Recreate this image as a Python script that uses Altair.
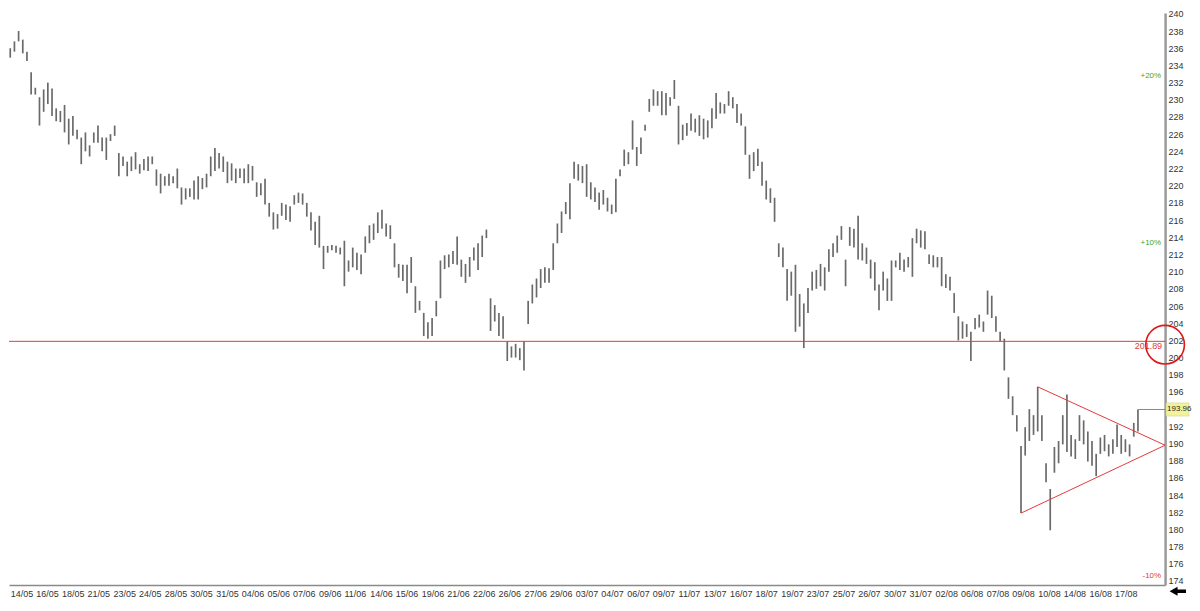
import altair as alt
import pandas as pd

# ---- bar data (high / low per bar) ----
highs = [236.0, 236.8, 238.0, 237.0, 235.6, 233.2, 231.4, 230.3, 231.2, 232.0,
         231.3, 229.0, 228.7, 229.4, 227.8, 228.1, 226.5, 225.6, 226.2, 224.7,
         226.2, 227.0, 225.6, 225.6, 226.0, 227.0, 223.8, 223.4, 222.8, 223.4,
         223.9, 222.5, 223.1, 223.4, 223.4, 221.9, 221.4, 221.1, 221.4, 221.1,
         222.0, 219.8, 219.7, 219.7, 220.6, 221.1, 220.9, 221.4, 223.4, 224.4,
         223.8, 223.4, 222.8, 222.6, 222.0, 222.0, 222.0, 222.5, 222.3, 220.4,
         220.3, 220.8, 218.0, 216.9, 216.7, 218.0, 217.8, 217.6, 218.9, 219.2,
         219.1, 218.0, 216.9, 215.8, 216.5, 213.0, 213.0, 213.1, 213.0, 212.8,
         213.6, 211.3, 212.8, 212.2, 212.0, 214.1, 215.4, 215.6, 216.9, 217.2,
         215.6, 215.4, 213.3, 210.9, 210.8, 210.8, 211.7, 208.3, 206.6, 205.2,
         204.1, 204.6, 206.6, 211.3, 211.9, 212.0, 212.4, 214.1, 211.4, 210.9,
         211.7, 212.8, 213.3, 214.2, 214.9, 206.9, 206.1, 205.2, 204.8, 201.9,
         201.3, 201.6, 201.1, 201.9, 206.6, 208.5, 209.2, 210.3, 210.5, 210.4,
         213.3, 215.6, 217.0, 218.1, 220.3, 222.8, 222.5, 222.3, 222.5, 220.4,
         219.8, 219.2, 219.5, 218.6, 217.8, 220.8, 221.9, 224.2, 223.9, 227.6,
         224.5, 225.6, 227.1, 230.1, 231.2, 231.0, 231.0, 230.8, 230.3, 232.3,
         229.3, 227.1, 227.3, 228.4, 227.8, 228.2, 227.8, 227.6, 229.0, 230.8,
         229.7, 229.5, 231.0, 230.3, 229.5, 228.4, 226.9, 223.6, 223.9, 224.3,
         222.8, 220.6, 219.7, 218.6, 213.3, 212.8, 210.3, 210.0, 210.8, 207.4,
         206.3, 208.1, 210.0, 210.2, 210.9, 210.5, 212.6, 213.3, 214.2, 215.3,
         211.4, 215.2, 215.0, 216.5, 213.3, 212.8, 211.4, 211.1, 208.5, 210.0,
         209.2, 211.3, 211.3, 212.2, 211.4, 211.7, 213.9, 215.0, 214.8, 214.7,
         212.0, 211.9, 211.7, 211.7, 209.7, 209.4, 207.5, 204.8, 204.2, 203.9,
         203.0, 204.6, 205.0, 204.2, 207.8, 207.2, 204.8, 203.0, 202.2, 197.7,
         195.5, 193.3, 189.7, 191.9, 194.0, 193.3, 196.6, 193.3, 187.7, 184.7,
         189.6, 190.3, 193.3, 195.7, 191.0, 190.5, 193.3, 192.7, 191.4, 190.3,
         188.8, 190.7, 191.0, 189.9, 190.5, 192.2, 191.0, 190.5, 189.9, 192.4,
         193.96]

lows = [234.9, 235.6, 236.8, 235.4, 234.5, 230.6, 230.6, 227.0, 228.6, 229.5,
        228.1, 227.5, 227.4, 226.2, 224.8, 225.8, 225.4, 222.5, 224.0, 223.4,
        225.0, 225.0, 224.0, 223.0, 225.2, 225.8, 221.1, 222.3, 221.1, 221.7,
        221.9, 221.4, 221.8, 221.7, 222.5, 220.0, 219.1, 220.0, 220.0, 220.3,
        219.7, 217.8, 218.4, 218.7, 218.4, 218.4, 219.6, 219.8, 221.1, 221.7,
        222.0, 221.6, 220.3, 220.6, 220.3, 220.9, 220.3, 220.3, 220.6, 218.7,
        218.9, 217.8, 216.4, 214.9, 215.0, 216.5, 216.0, 215.8, 217.8, 218.0,
        217.8, 216.4, 214.8, 213.1, 212.8, 210.3, 212.2, 212.5, 212.2, 212.0,
        208.3, 210.0, 210.5, 210.2, 209.7, 212.2, 213.3, 213.7, 214.5, 215.0,
        214.1, 213.8, 210.5, 209.3, 208.9, 207.5, 208.7, 205.2, 205.5, 202.5,
        202.2, 202.5, 204.8, 206.9, 210.3, 210.5, 210.9, 210.8, 209.4, 208.7,
        209.4, 211.3, 210.2, 211.7, 213.9, 203.1, 204.2, 202.5, 202.2, 199.6,
        200.0, 200.0, 199.7, 198.5, 203.9, 206.3, 207.0, 208.1, 208.7, 208.7,
        210.2, 213.3, 214.5, 216.7, 216.1, 220.8, 220.6, 220.3, 218.7, 218.4,
        218.1, 217.2, 217.8, 217.0, 216.7, 216.9, 221.1, 222.3, 222.5, 224.2,
        222.3, 223.7, 226.4, 228.6, 229.3, 229.3, 228.2, 228.2, 229.3, 230.1,
        224.8, 225.3, 225.8, 226.4, 226.2, 225.8, 225.4, 225.6, 226.7, 227.8,
        228.4, 228.4, 229.3, 229.0, 227.3, 227.0, 223.6, 220.8, 221.7, 222.3,
        220.0, 218.4, 218.0, 215.8, 211.7, 210.5, 206.6, 207.2, 203.0, 203.6,
        201.1, 205.2, 207.8, 208.0, 208.3, 207.8, 210.0, 211.7, 212.2, 213.7,
        208.3, 213.0, 212.8, 211.4, 211.3, 210.9, 209.2, 207.8, 205.5, 207.8,
        206.6, 206.6, 210.5, 210.2, 210.0, 210.5, 209.4, 213.3, 212.8, 212.6,
        210.9, 210.5, 210.5, 208.3, 208.1, 207.8, 205.2, 202.0, 202.2, 202.4,
        199.6, 203.3, 203.5, 203.0, 205.0, 204.6, 203.0, 201.9, 198.5, 195.2,
        193.3, 191.4, 181.9, 188.6, 190.3, 191.0, 191.4, 190.3, 185.5, 179.9,
        186.6, 187.7, 189.9, 189.0, 188.5, 188.2, 190.3, 189.9, 187.9, 187.4,
        186.2, 188.8, 189.1, 188.5, 188.8, 189.6, 188.8, 189.0, 188.5, 190.8,
        191.4]

date_labels = ["14/05", "16/05", "18/05", "21/05", "23/05", "24/05", "28/05", "30/05",
               "31/05", "04/06", "05/06", "07/06", "09/06", "11/06", "14/06", "15/06",
               "19/06", "21/06", "22/06", "26/06", "27/06", "29/06", "03/07", "04/07",
               "06/07", "09/07", "11/07", "13/07", "16/07", "18/07", "19/07", "23/07",
               "25/07", "26/07", "30/07", "31/07", "02/08", "06/08", "07/08", "09/08",
               "10/08", "14/08", "16/08", "17/08"]
# bar position of each date label (evenly spaced in the reference)
label_bars = [0.0, 6.1, 12.3, 18.4, 24.6, 30.7, 36.9, 43.0, 49.2, 55.3, 61.5, 67.6,
              73.8, 79.9, 86.1, 92.2, 98.4, 104.5, 110.7, 116.8, 123.0, 129.1, 135.3,
              141.4, 147.6, 153.7, 159.9, 166.0, 172.2, 178.3, 184.5, 190.6, 196.8,
              202.9, 209.1, 215.2, 221.4, 227.5, 233.7, 239.8, 246.0, 252.1, 258.3,
              264.4]

# 194 is covered by the last-price tag in the reference
y_ticks = [v for v in range(174, 241, 2) if v != 194]

last_price = 193.96
support_level = 201.89
pct_levels = [232.75, 213.36, 174.56]
pct_texts = ["+20%", "+10%", "-10%"]
pct_colors = ["#33a833", "#33a833", "#e03a3a"]

# triangle trend lines (bar index, price)
tri_line = ["upper", "upper", "lower", "lower"]
tri_bar = [246, 276.5, 242, 276.5]
tri_price = [196.6, 189.8, 181.9, 189.8]

XMAX = 276.5           # right edge of the price area, in bars
YMIN, YMAX = 173.53, 240.1

FONT = "Liberation Sans"
RED = "#e23a3a"

xs = alt.Scale(domain=[-0.3, XMAX], nice=False, zero=False)
ys = alt.Scale(domain=[YMIN, YMAX], nice=False, zero=False)

label_expr = ("[" + ",".join("'%s'" % d for d in date_labels) + "][indexof(["
              + ",".join(str(b) for b in label_bars) + "], datum.value)]")

XAX = alt.Axis(
    values=label_bars, labelExpr=label_expr, orient="bottom", ticks=False,
    domainColor="#8a8a8a", domainWidth=1.5, labelFontSize=9, labelFont=FONT,
    labelAlign="left", labelBaseline="top", labelPadding=4, labelOverlap=False,
    labelFlush=False, grid=False, title=None, labelColor="#333333")
YAX = alt.Axis(
    values=y_ticks, orient="right", ticks=False, domainColor="#9a9a9a",
    domainWidth=2.5, labelFontSize=9, labelFont=FONT, labelPadding=3,
    labelOverlap=False, labelFlush=False, grid=False, title=None,
    labelColor="#333333")


def X(field):
    return alt.X(field, scale=xs, axis=XAX)


def Y(field):
    return alt.Y(field, scale=ys, axis=YAX)


bars_df = pd.DataFrame({"i": list(range(len(highs))), "hi": highs, "lo": lows})

bars = alt.Chart(bars_df).mark_rule(color="#6a6a6a", strokeWidth=1.7).encode(
    x=X("i:Q"), y=Y("hi:Q"), y2="lo:Q")

support = alt.Chart(pd.DataFrame({"p": [support_level]})).mark_rule(
    color=RED, strokeWidth=1).encode(y=Y("p:Q"))

last_df = pd.DataFrame({"x": [len(highs) - 1], "x2": [XMAX], "p": [last_price]})
last_line = alt.Chart(last_df).mark_rule(color="#888888", strokeWidth=1).encode(
    x=X("x:Q"), x2="x2:Q", y=Y("p:Q"))

tri_df = pd.DataFrame({"line": tri_line, "x": tri_bar, "p": tri_price})
triangle = alt.Chart(tri_df).mark_line(color=RED, strokeWidth=1).encode(
    x=X("x:Q"), y=Y("p:Q"), detail="line:N")

pct_df = pd.DataFrame({"x": [XMAX] * 3, "p": pct_levels, "t": pct_texts, "c": pct_colors})
pct = alt.Chart(pct_df).mark_text(align="right", baseline="middle", dx=-4,
                                  fontSize=8, font=FONT).encode(
    x=X("x:Q"), y=Y("p:Q"), text="t:N", color=alt.Color("c:N", scale=None))

sup_df = pd.DataFrame({"x": [XMAX], "p": [support_level], "t": ["%.2f" % support_level]})
sup_text = alt.Chart(sup_df).mark_text(align="right", baseline="top", dx=-3, dy=1,
                                       fontSize=9, font=FONT, color=RED).encode(
    x=X("x:Q"), y=Y("p:Q"), text="t:N")

circle = alt.Chart(pd.DataFrame({"x": [XMAX], "p": [201.5]})).mark_point(
    shape="circle", size=1500, filled=False, color="#e01818", strokeWidth=1.6,
    opacity=1).encode(x=X("x:Q"), y=Y("p:Q"))

box_path = "M0.08,-0.55 L2.0,-0.55 L2.0,0.55 L0.08,0.55 Z"
last_df2 = pd.DataFrame({"x": [XMAX], "p": [last_price], "t": ["%.2f" % last_price]})
box = alt.Chart(last_df2).mark_point(shape=box_path, size=576, filled=True,
                                     fill="#f2f29c", stroke="#cfcf80", strokeWidth=0.5,
                                     opacity=1).encode(x=X("x:Q"), y=Y("p:Q"))
box_text = alt.Chart(last_df2).mark_text(align="left", baseline="middle", dx=2,
                                         fontSize=8, font=FONT, color="#222222").encode(
    x=X("x:Q"), y=Y("p:Q"), text="t:N")

arrow_path = "M0.45,0.62 L1.25,0.17 L1.25,0.45 L2.1,0.45 L2.1,0.8 L1.25,0.8 L1.25,1.07 Z"
arrow = alt.Chart(pd.DataFrame({"x": [XMAX], "p": [YMIN]})).mark_point(
    shape=arrow_path, size=400, filled=True, color="#000000", opacity=1).encode(
    x=X("x:Q"), y=Y("p:Q"))

chart = alt.layer(
    bars, support, triangle, last_line, pct, sup_text, circle, box, box_text, arrow
).properties(
    width=1160, height=574, background="white", padding=0
).configure_view(stroke=None)

chart.save("out.html", embed_options={"renderer": "svg", "actions": False})
